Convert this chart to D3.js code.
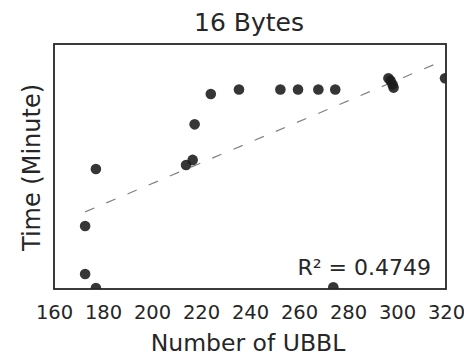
<!DOCTYPE html>
<html>
<head>
<meta charset="utf-8">
<script src="https://cdn.jsdelivr.net/npm/d3@7"></script>
<style>
  html, body { margin: 0; padding: 0; background: #fff; }
  svg { display: block; font-family: "DejaVu Sans", sans-serif; }
</style>
</head>
<body>
<svg id="chart" width="464" height="358"></svg>
<script>
// ---- data ----
const title = "16 Bytes";
const xLabel = "Number of UBBL";
const yLabel = "Time (Minute)";
const r2Label = "R\u00B2 = 0.4749";
const xTicks = [160, 180, 200, 220, 240, 260, 280, 300, 320];
const xDomain = [160, 320];
const yDomain = [0, 10]; // y axis has no tick labels; arbitrary units
const ubbl = [172.7, 177.1, 172.7, 177.1, 213.9, 216.6, 217.4, 224.0, 235.5,
              252.4, 259.6, 267.9, 274.8, 274.0, 296.5, 297.4, 298.2, 298.6, 319.6];
const minutes = [2.57, 4.90, 0.61, 0.04, 5.06, 5.27, 6.72, 7.96, 8.14,
                 8.14, 8.14, 8.14, 8.14, 0.07, 8.60, 8.50, 8.35, 8.22, 8.60];
const fitX = [172.7, 317.0];
const fitY = [3.15, 9.24];

// ---- layout ----
const svg = d3.select("#chart");
const m = { left: 54, top: 44, right: 446, bottom: 289 };
const x = d3.scaleLinear().domain(xDomain).range([m.left, m.right]);
const y = d3.scaleLinear().domain(yDomain).range([m.bottom, m.top]);
const ink = "#262626";

svg.append("defs").append("clipPath").attr("id", "plotclip")
  .append("rect").attr("x", m.left).attr("y", m.top)
  .attr("width", m.right - m.left).attr("height", m.bottom - m.top);

// regression line
const fit = fitX.map((v, i) => [v, fitY[i]]);
svg.append("path")
  .datum(fit)
  .attr("d", d3.line().x(d => x(d[0])).y(d => y(d[1])))
  .attr("fill", "none")
  .attr("stroke", "#808080")
  .attr("stroke-width", 1.2)
  .attr("stroke-dasharray", "10,13");

// points
svg.append("g").attr("clip-path", "url(#plotclip)")
  .selectAll("circle")
  .data(ubbl.map((v, i) => [v, minutes[i]]))
  .join("circle")
  .attr("cx", d => x(d[0]))
  .attr("cy", d => y(d[1]))
  .attr("r", 5.3)
  .attr("fill", "#1a1a1a")
  .attr("fill-opacity", 0.88);

// frame
svg.append("rect")
  .attr("x", m.left).attr("y", m.top)
  .attr("width", m.right - m.left).attr("height", m.bottom - m.top)
  .attr("fill", "none").attr("stroke", ink).attr("stroke-width", 1.8);

// x axis (tick labels only)
const xAxis = d3.axisBottom(x).tickValues(xTicks).tickSize(0).tickPadding(16)
  .tickFormat(d3.format("d"));
const gx = svg.append("g").attr("transform", `translate(0,${m.bottom})`).call(xAxis);
gx.select(".domain").remove();
gx.selectAll("text").attr("font-size", 19.5).attr("fill", ink)
  .attr("font-family", "DejaVu Sans, sans-serif");

// labels
svg.append("text").attr("x", (m.left + m.right) / 2 - 2).attr("y", 351)
  .attr("text-anchor", "middle").attr("font-size", 23.5).attr("fill", ink)
  .text(xLabel);
svg.append("text")
  .attr("transform", `translate(40,${(m.top + m.bottom) / 2 + 1}) rotate(-90)`)
  .attr("text-anchor", "middle").attr("font-size", 24).attr("fill", ink)
  .text(yLabel);
svg.append("text").attr("x", (m.left + m.right) / 2 - 1).attr("y", 31)
  .attr("text-anchor", "middle").attr("font-size", 25).attr("fill", ink)
  .text(title);
svg.append("text").attr("x", 431).attr("y", 275)
  .attr("text-anchor", "end").attr("font-size", 22).attr("fill", ink)
  .text(r2Label);
</script>
</body>
</html>
